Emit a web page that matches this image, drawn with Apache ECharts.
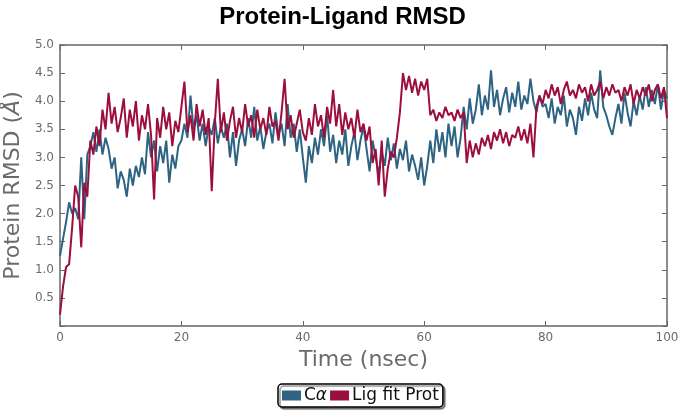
<!DOCTYPE html>
<html>
<head>
<meta charset="utf-8">
<script src="https://cdn.jsdelivr.net/npm/echarts@6/dist/echarts.min.js"></script>
<style>
  html, body { margin: 0; padding: 0; background: #fff; }
  #chart { width: 685px; height: 411px; }
</style>
</head>
<body>
<div id="chart"></div>
<script>
// sampled every 0.5 ns, 0 .. 100
const timeStep = 0.5

const caRmsd = [
  1.25, 1.55, 1.85, 2.2, 2.0, 2.1, 1.9, 3.0, 1.9, 3.05,
  3.2, 3.45, 3.1, 3.5, 3.05, 3.35, 3.15, 2.8, 3.0, 2.45,
  2.75, 2.6, 2.3, 2.8, 2.5, 2.85, 2.65, 3.0, 2.7, 3.45,
  3.0, 3.3, 2.75, 3.2, 2.9, 3.3, 2.55, 3.05, 2.8, 3.2,
  3.3, 3.6, 3.35, 4.1, 3.5, 3.75, 3.3, 3.6, 3.2, 3.55,
  3.4, 3.7, 3.25, 3.55, 3.35, 3.6, 3.0, 3.45, 2.85, 3.3,
  3.5, 3.2, 3.7, 3.35, 3.9, 3.3, 3.55, 3.15, 3.45, 3.6,
  3.25, 3.8, 3.4, 3.6, 3.2, 3.95, 3.35, 3.6, 3.1, 3.5,
  3.0, 2.55, 3.2, 2.9, 3.35, 3.05, 3.5, 3.2, 3.75, 3.1,
  3.4, 2.9, 3.3, 3.05, 3.5, 2.85, 3.2, 3.45, 2.95, 3.3,
  3.55, 3.15, 2.75, 3.3, 3.0, 2.7, 3.1, 2.85, 3.35, 2.95,
  3.25, 2.8, 3.15, 2.95, 3.3, 2.75, 3.05, 2.85, 2.6, 3.0,
  2.5, 2.85, 3.3, 2.9, 3.5, 3.1, 3.45, 3.0, 3.6, 3.2,
  3.55, 3.0, 3.35, 3.9, 3.5, 4.05, 3.6, 3.85, 4.3, 3.75,
  4.1, 3.85, 4.55, 3.9, 4.2, 3.75, 4.05, 4.25, 3.8, 4.15,
  3.9, 4.35, 3.85, 4.1, 3.95, 4.4, 4.0, 3.8, 4.1, 3.9,
  3.95, 3.7, 4.05, 3.6, 3.9, 3.75, 4.1, 3.55, 3.85, 3.7,
  3.4, 3.9, 3.65, 4.05, 3.75, 4.15, 3.85, 3.7, 4.55, 3.9,
  3.75, 3.55, 3.4, 3.7, 3.95, 3.6, 4.15, 3.8, 3.55, 4.0,
  3.75, 4.1, 3.85, 4.25, 3.9, 4.2, 3.95, 4.3, 3.85, 4.2,
  4.05
]

const ligRmsd = [
  0.2, 0.7, 1.05, 1.1, 1.75, 2.5, 2.3, 1.4, 2.55, 2.3,
  3.3, 3.05, 3.55, 3.2, 3.85, 3.5, 4.15, 3.6, 3.9, 3.45,
  3.7, 4.05, 3.35, 3.85, 3.55, 4.0, 3.3, 3.75, 3.5, 3.95,
  3.4, 2.25, 3.7, 3.35, 3.9, 3.5, 3.8, 3.2, 3.65, 3.45,
  3.9, 4.35, 3.45, 3.75, 3.3, 3.95, 3.55, 3.85, 3.4, 3.7,
  2.4, 3.6, 4.4, 3.45, 3.8, 3.3, 3.65, 3.9, 3.35, 3.7,
  3.45, 3.95, 3.55, 3.75, 3.35, 3.85, 3.5, 3.7, 3.4, 3.9,
  3.55, 3.65, 3.3, 3.8, 4.4, 3.5, 3.75, 3.35, 3.6, 3.85,
  3.45, 3.3, 3.7, 3.4, 3.95, 3.55, 3.75, 3.35, 3.9, 3.6,
  4.2, 3.55, 3.95, 3.4, 3.8, 3.5, 3.7, 3.35, 3.85, 3.45,
  3.6, 3.3, 3.55, 2.9, 3.15, 2.5, 3.3, 2.3, 2.8, 3.1,
  3.0, 3.35, 3.8, 4.5, 4.2, 4.45, 4.15, 4.4, 4.1, 4.35,
  4.2, 4.4, 3.75, 3.85, 3.65, 3.8, 3.7, 3.9, 3.75, 3.8,
  3.65, 3.85, 3.7, 3.8, 2.9, 3.3, 3.0, 3.25, 3.05, 3.35,
  3.2, 3.4, 3.15, 3.45, 3.3, 3.5, 3.25, 3.45, 3.2, 3.4,
  3.35, 3.55, 3.3, 3.5, 3.25, 3.6, 3.0, 3.9, 4.1, 3.95,
  4.2, 4.05, 4.3, 4.1, 4.25, 3.95, 4.2, 4.35, 4.1, 4.2,
  4.05, 4.3, 4.15, 4.25, 4.0, 4.3, 4.1, 4.2, 4.35, 4.05,
  4.25, 4.1, 4.3, 4.15, 4.2, 4.0, 4.25, 4.1, 4.3, 3.95,
  4.2, 4.05, 4.25, 4.1, 4.3, 4.0, 4.2, 4.3, 4.05, 4.25,
  3.7
]

const toPairs = arr => arr.map((v, i) => [i * timeStep, v])

const chart = echarts.init(document.getElementById('chart'))
const axisColor = '#666'
const labelColor = '#6b6b6b'

const baseX = {
  type: 'value', min: 0, max: 100, interval: 20,
  axisLine: { onZero: false, lineStyle: { color: axisColor, width: 1.5 } },
  axisTick: { inside: true, length: 5, lineStyle: { color: axisColor } },
  splitLine: { show: false }
}
const baseY = {
  type: 'value', min: 0, max: 5, interval: 0.5,
  axisLine: { onZero: false, lineStyle: { color: axisColor, width: 1.5 } },
  axisTick: { inside: true, length: 5, lineStyle: { color: axisColor } },
  splitLine: { show: false }
}

chart.setOption({
  animation: false,
  title: {
    text: 'Protein-Ligand RMSD',
    left: 'center',
    top: 0,
    textStyle: { fontFamily: 'Liberation Sans', fontWeight: 'bold', fontSize: 24, color: '#000' }
  },
  grid: { left: 60, right: 18, top: 45, bottom: 85, containLabel: false, outerBoundsMode: 'none' },
  legend: {
    bottom: 4,
    left: 278,
    icon: 'rect',
    itemWidth: 19,
    itemHeight: 10,
    itemGap: 3,
    padding: [3, 4, 3, 4],
    borderColor: '#000',
    borderWidth: 1.5,
    borderRadius: 4,
    backgroundColor: '#fff',
    shadowColor: 'rgba(0,0,0,0.45)',
    shadowOffsetX: 2,
    shadowOffsetY: 2,
    shadowBlur: 1,
    formatter: name => name === 'Cα' ? '{c|C}{a|α}' : name,
    textStyle: {
      fontFamily: 'DejaVu Sans', fontSize: 17, color: '#111', padding: [0, 0, 0, -2],
      rich: {
        c: { fontFamily: 'DejaVu Sans', fontSize: 17, color: '#111' },
        a: { fontFamily: 'DejaVu Sans', fontSize: 17, fontStyle: 'italic', color: '#111' }
      }
    },
    data: ['Cα', 'Lig fit Prot']
  },
  xAxis: [
    Object.assign({}, baseX, {
      position: 'bottom',
      name: 'Time (nsec)',
      nameLocation: 'middle',
      nameGap: 23,
      nameTextStyle: { fontFamily: 'DejaVu Sans', fontSize: 22, color: labelColor },
      axisLabel: { color: labelColor, fontFamily: 'DejaVu Sans', fontSize: 12, margin: 6 }
    }),
    Object.assign({}, baseX, { position: 'top', axisLabel: { show: false } })
  ],
  yAxis: [
    Object.assign({}, baseY, {
      position: 'left',
      name: 'Protein RMSD ({i|Å})',
      nameLocation: 'middle',
      nameGap: 32,
      nameTextStyle: {
        fontFamily: 'DejaVu Sans', fontSize: 22, color: labelColor,
        rich: { i: { fontFamily: 'DejaVu Sans', fontSize: 22, fontStyle: 'italic', color: labelColor } }
      },
      axisLabel: {
        color: labelColor, fontFamily: 'DejaVu Sans', fontSize: 12, margin: 6,
        formatter: v => v === 0 ? '' : v.toFixed(1)
      }
    }),
    Object.assign({}, baseY, { position: 'right', axisLabel: { show: false } })
  ],
  series: [
    {
      name: 'Cα',
      type: 'line',
      data: toPairs(caRmsd),
      showSymbol: false,
      color: '#2e6384',
      lineStyle: { width: 2, color: '#2e6384' },
      z: 2
    },
    {
      name: 'Lig fit Prot',
      type: 'line',
      data: toPairs(ligRmsd),
      showSymbol: false,
      color: '#9c0f3d',
      lineStyle: { width: 2, color: '#9c0f3d' },
      z: 3
    }
  ]
})
</script>
</body>
</html>
